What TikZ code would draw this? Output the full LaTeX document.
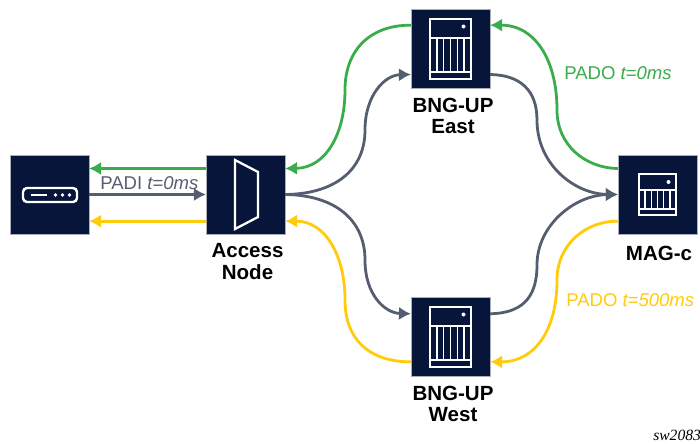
\documentclass[tikz,border=0pt]{standalone}
\usepackage{fontspec}
\setmainfont{Liberation Sans}
\newfontfamily\tagfont{Liberation Serif}
\usetikzlibrary{positioning,arrows.meta}

\definecolor{navybox}{HTML}{07153A}
\definecolor{slateline}{HTML}{555E70}
\definecolor{greenline}{HTML}{39AC4B}
\definecolor{yellowline}{HTML}{FFCB0B}

\tikzset{
  nodebox/.style={fill=navybox,draw=slateline!50,line width=0.4pt,minimum size=59pt,inner sep=0pt},
  nodelabel/.style={font=\fontsize{15.4}{16}\selectfont\bfseries,align=center,inner sep=0pt,text=black},
  msglabel/.style={font=\fontsize{13.9}{15}\selectfont,inner sep=0pt},
  icon/.style={draw=white,line width=1.5pt},
  link/.style={->,>={Latex[length=9pt,width=10pt]},line width=2.1pt},
  pics/chassis/.style n args={4}{code={
    % half width, half height, top rail, bottom rail
    \draw[icon] (-#1,-#2) rectangle (#1,#2);
    \draw[icon] (-#1,#3) -- (#1,#3) (-#1,#4) -- (#1,#4);
    \foreach \col in {-0.667,-0.333,0,0.333,0.667}
      \draw[icon,line width=1.1pt] (\col*#1,#3) -- (\col*#1,#4);
    \fill[white] (#1-7.5,-#2+8) circle (2);
  }}
}

\begin{document}
\begin{tikzpicture}[x=0.75pt,y=-0.75pt]

    \useasboundingbox (0,0) rectangle (700,443);

    \node[nodebox] (host)   at (49.5,194.5)  {};
    \node[nodebox] (access) at (245.5,194.5) {};
    \node[nodebox] (east)   at (450.5,48.5)  {};
    \node[nodebox] (west)   at (450.5,336.5) {};
    \node[nodebox] (mag)    at (657.5,194.5) {};

    \node[nodelabel] (accesstext) at (247.5,261.5) {Access\\Node};
    \node[nodelabel] (easttext)   at (453,116)     {BNG-UP\\East};
    \node[nodelabel] (westtext)   at (453,404)     {BNG-UP\\West};
    \node[nodelabel] (magtext)    at (659,253)     {MAG-c};

    % icons
    \draw[icon,line width=1.8pt,rounded corners=3pt] (23,188) rectangle (77,202);
    \draw[icon,line width=1.8pt] (31,195) -- (47,195);
    \foreach \dotx in {55.5,62.5,69.5}
      \fill[white] (\dotx,195) circle (1.8);
    \draw[icon,line width=1.7pt] (235,160) -- (258,172) -- (258,217) -- (235,229) -- cycle;
    \pic at (east) {chassis={20.5}{30}{-10.5}{23}};
    \pic at (west) {chassis={20.5}{30}{-10.5}{23}};
    \pic at (mag)  {chassis={18.5}{20.5}{-5}{14}};

    % green: PADO from MAG-c
    \draw[link,greenline] ([yshift=19.5pt]access.west) -- ([yshift=19.5pt]host.east);
    \draw[link,greenline] ([yshift=19.5pt]mag.west)
        .. controls (585,168) and (557,145) .. (557,110)
        .. controls (557,60) and (535,25) .. ([yshift=17.5pt]east.east);
    \draw[link,greenline] ([yshift=17.5pt]east.west)
        .. controls (370,25) and (345,50) .. (345,90)
        .. controls (345,135) and (325,168) .. ([yshift=19.5pt]access.east);

    % grey: PADI
    \draw[link,slateline] (host.east) -- (access.west);
    \draw[link,slateline] (access.east)
        .. controls (335,194) and (365,170) .. (365,130)
        .. controls (365,95) and (385,75) .. ([yshift=-19.5pt]east.west);
    \draw[link,slateline] (access.east)
        .. controls (335,195) and (365,220) .. (365,260)
        .. controls (365,295) and (385,313) .. ([yshift=17pt]west.west);
    \draw[link,slateline] ([yshift=-19.5pt]east.east)
        .. controls (520,75) and (537,90) .. (537,120)
        .. controls (537,165) and (575,194) .. (mag.west);
    \draw[link,slateline] ([yshift=17pt]west.east)
        .. controls (520,313) and (537,300) .. (537,265)
        .. controls (537,225) and (575,195) .. (mag.west);

    % yellow: PADO from MAG-c, delayed
    \draw[link,yellowline] ([yshift=-20pt]access.west) -- ([yshift=-20pt]host.east);
    \draw[link,yellowline] ([yshift=-20pt]mag.west)
        .. controls (585,221) and (557,245) .. (557,280)
        .. controls (557,330) and (535,362) .. ([yshift=-19pt]west.east);
    \draw[link,yellowline] ([yshift=-19pt]west.west)
        .. controls (370,362) and (345,340) .. (345,300)
        .. controls (345,255) and (325,221) .. ([yshift=-20pt]access.east);

    \node[msglabel,text=slateline,anchor=west]  (padi)   at (100,183) {PADI \textit{t=0ms}};
    \node[msglabel,text=greenline,anchor=west]  (padoa)  at (564,73)  {PADO \textit{t=0ms}};
    \node[msglabel,text=yellowline,anchor=west] (padob)  at (566,300) {PADO \textit{t=500ms}};
    \node[anchor=west,inner sep=0pt,font=\tagfont\itshape\fontsize{11.7}{13}\selectfont] (tag) at (653,435.5) {sw2083};

\end{tikzpicture}
\end{document}
